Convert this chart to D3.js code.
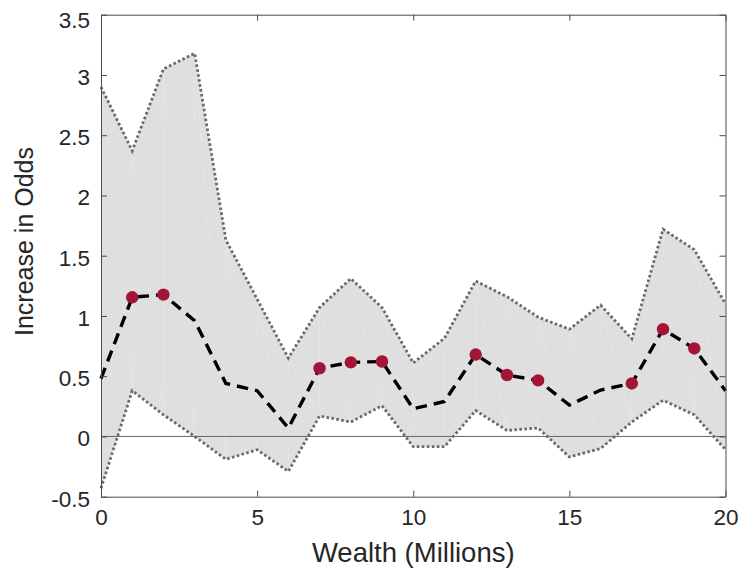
<!DOCTYPE html>
<html>
<head>
<meta charset="utf-8">
<script src="https://cdn.jsdelivr.net/npm/d3@7"></script>
<style>
  html, body { margin: 0; padding: 0; background: #fff; }
  svg { display: block; font-family: "Liberation Sans", Helvetica, Arial, sans-serif; }
</style>
</head>
<body>
<svg id="chart" width="740" height="577"></svg>
<script>
// Wealth bins (millions)
const wealth = [0, 1, 2, 3, 4, 5, 6, 7, 8, 9, 10, 11, 12, 13, 14, 15, 16, 17, 18, 19, 20];
// Point estimate of the increase in odds
const estimate = [0.48, 1.155, 1.177, 0.96, 0.44, 0.38, 0.07, 0.566, 0.615, 0.622, 0.23,
                  0.29, 0.68, 0.51, 0.465, 0.26, 0.385, 0.44, 0.89, 0.73, 0.38];
// Upper and lower confidence bounds
const upperBound = [2.90, 2.37, 3.05, 3.18, 1.63, 1.14, 0.65, 1.07, 1.31, 1.07, 0.61,
                    0.815, 1.29, 1.16, 0.99, 0.89, 1.09, 0.81, 1.72, 1.55, 1.10];
const lowerBound = [-0.43, 0.38, 0.18, 0.0, -0.19, -0.11, -0.29, 0.17, 0.12, 0.255, -0.085,
                    -0.085, 0.215, 0.05, 0.07, -0.17, -0.10, 0.12, 0.30, 0.18, -0.11];
// Bins where the estimate is significant
const significant = [1, 2, 7, 8, 9, 12, 13, 14, 17, 18, 19];
// Tick values
const xTicks = [0, 5, 10, 15, 20];
const yTicks = [-0.5, 0, 0.5, 1, 1.5, 2, 2.5, 3, 3.5];

const svg = d3.select("#chart");
const plotLeft = 101, plotRight = 725.5, plotTop = 14.7, plotBottom = 496.7;

const x = d3.scaleLinear().domain([0, 20]).range([plotLeft, plotRight]);
const y = d3.scaleLinear().domain([-0.5, 3.5]).range([plotBottom, plotTop]);

const rows = wealth.map((w, i) => ({ w, m: estimate[i], hi: upperBound[i], lo: lowerBound[i] }));

// Confidence band
const band = d3.area().x(d => x(d.w)).y0(d => y(d.lo)).y1(d => y(d.hi));
svg.append("path").datum(rows).attr("d", band).attr("fill", "#dfdfdf").attr("stroke", "none");

// Faint facet seams inside the band
const seams = svg.append("g").attr("stroke", "#ffffff").attr("stroke-opacity", 0.28).attr("stroke-width", 0.6);
rows.forEach((d, i) => {
  if (i > 0 && i < rows.length - 1) {
    seams.append("line").attr("x1", x(d.w)).attr("x2", x(d.w)).attr("y1", y(d.lo)).attr("y2", y(d.hi));
  }
  if (i < rows.length - 1) {
    const n = rows[i + 1];
    seams.append("line").attr("x1", x(d.w)).attr("y1", y(d.hi)).attr("x2", x(n.w)).attr("y2", y(n.lo));
  }
});

// Zero reference line
svg.append("line").attr("x1", plotLeft).attr("x2", plotRight).attr("y1", y(0)).attr("y2", y(0))
  .attr("stroke", "#666").attr("stroke-width", 1);

// Dotted bound lines
const lineHi = d3.line().x(d => x(d.w)).y(d => y(d.hi));
const lineLo = d3.line().x(d => x(d.w)).y(d => y(d.lo));
[lineHi, lineLo].forEach(gen => {
  svg.append("path").datum(rows).attr("d", gen).attr("fill", "none")
    .attr("stroke", "#6a6a6a").attr("stroke-width", 2.8).attr("stroke-dasharray", "2.6,2.4");
});

// Dashed estimate line
const lineMid = d3.line().x(d => x(d.w)).y(d => y(d.m));
svg.append("path").datum(rows).attr("d", lineMid).attr("fill", "none")
  .attr("stroke", "#000").attr("stroke-width", 3.4).attr("stroke-dasharray", "11.5,7");

// Significant points
svg.append("g").selectAll("circle").data(significant).join("circle")
  .attr("cx", i => x(wealth[i])).attr("cy", i => y(estimate[i])).attr("r", 6.2)
  .attr("fill", "#a31535");

// Axes box with inward ticks on all sides
const axisColor = "#4a4a4a";
const tickLen = 6;
const plainNumber = d => String(d);
const axisBottom = d3.axisBottom(x).tickValues(xTicks).tickSizeInner(-tickLen).tickSizeOuter(0).tickPadding(11).tickFormat(plainNumber);
const axisTop = d3.axisTop(x).tickValues(xTicks).tickSizeInner(-tickLen).tickSizeOuter(0).tickFormat("");
const axisLeft = d3.axisLeft(y).tickValues(yTicks).tickSizeInner(-tickLen).tickSizeOuter(0).tickPadding(11).tickFormat(plainNumber);
const axisRight = d3.axisRight(y).tickValues(yTicks).tickSizeInner(-tickLen).tickSizeOuter(0).tickFormat("");

function styleAxis(g) {
  g.select(".domain").attr("stroke", axisColor).attr("stroke-width", 1);
  g.selectAll(".tick line").attr("stroke", axisColor).attr("stroke-width", 1);
  g.selectAll(".tick text").attr("fill", "#262626").style("font-size", "22.5px")
    .style("font-family", "'Liberation Sans', Helvetica, Arial, sans-serif");
}

svg.append("g").attr("transform", `translate(0,${plotBottom})`).call(axisBottom).call(styleAxis)
  .selectAll(".tick text").attr("dy", "0.78em");
svg.append("g").attr("transform", `translate(0,${plotTop})`).call(axisTop).call(styleAxis);
svg.append("g").attr("transform", `translate(${plotLeft},0)`).call(axisLeft).call(styleAxis)
  .selectAll(".tick text").attr("dy", d => d === 3.5 ? "0.55em" : "0.42em");
svg.append("g").attr("transform", `translate(${plotRight},0)`).call(axisRight).call(styleAxis);

// Axis titles
svg.append("text").attr("x", (plotLeft + plotRight) / 2).attr("y", 562).attr("text-anchor", "middle")
  .attr("fill", "#262626").style("font-size", "27.5px").text("Wealth (Millions)");
svg.append("text").attr("transform", "translate(33,241.5) rotate(-90)").attr("text-anchor", "middle")
  .attr("fill", "#262626").style("font-size", "25px").text("Increase in Odds");
</script>
</body>
</html>
